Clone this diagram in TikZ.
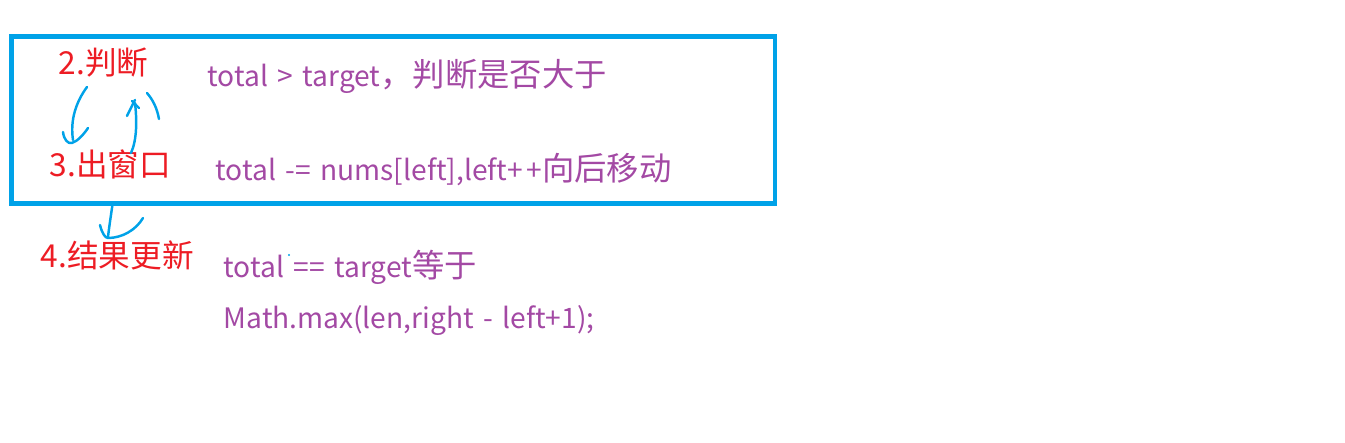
\documentclass[tikz,border=0pt]{standalone}
\usepackage{fontspec}
\setmainfont{Noto Sans CJK SC}
\newfontfamily\lat[Scale=0.87, WordSpace=1.5]{Noto Sans CJK SC}
\usepackage{tikz}
\usetikzlibrary{calc, positioning}
\definecolor{rouge}{RGB}{237,28,36}
\definecolor{bleu}{RGB}{0,162,232}
\definecolor{violet}{RGB}{163,73,164}
\tikzstyle{etape} = [
    text = rouge,
    anchor = base west,
    inner sep = 0pt,
    font = \fontsize{9pt}{11pt}\selectfont,
]
\tikzstyle{code} = [
    text = violet,
    anchor = base west,
    inner sep = 0pt,
    font = \fontsize{9.2pt}{11pt}\selectfont,
]
\tikzstyle{trait} = [
    draw = bleu,
    line width = 0.7pt,
    line cap = round,
    line join = round,
]

\begin{document}
\begin{tikzpicture} [x = 0.01cm, y = -0.01cm]
    \useasboundingbox (0, 0) rectangle (1345, 443);

    \node (Fenetre) [draw = bleu, line width = 1.28pt, minimum width = 7.63cm, minimum height = 1.67cm, anchor = north west] at (9.3, 34.3) {};

    \node (Juger) [etape] at (58, 75) {2.判断};
    \node (Sortir) [etape] at (49, 177) {3.出窗口};
    \node (Maj) [etape] at (40, 268) {4.结果更新};

    \node (Superieur) [code] at (207, 87) {{\lat total > target}，判断是否大于};
    \node (Retirer) [code] at (215, 181) {{\lat total -= nums[left],left+\kern 1pt+}向后移动};
    \node (Egal) [code] at (223, 278) {{\lat total == target}等于};
    \node (Longueur) [code] at (223, 329) {{\lat Math.max(len,right - left+1);}};

    % 2 -> 3
    \draw[trait] (87, 87) .. controls (76, 102) and (70, 120) .. (73, 140);
    \draw[trait] (63, 132) .. controls (64, 140) and (68, 144) .. (72, 143) .. controls (78, 141) and (84, 134) .. (88, 128);
    % 3 -> 2
    \draw[trait] (131, 153) .. controls (137, 140) and (137, 120) .. (135, 103);
    \draw[trait] (127, 116) .. controls (130, 108) .. (135, 100);
    \draw[trait] (132, 101) -- (139, 108);
    \draw[trait] (147, 93) .. controls (153, 100) and (157, 108) .. (159, 119);
    % box -> 4
    \draw[trait] (Fenetre.south west) ++(103, 0) .. controls (111, 215) and (109, 228) .. (108, 237);
    \draw[trait] (100, 225) .. controls (102, 233) and (105, 238) .. (108, 238) .. controls (122, 238) and (136, 230) .. (143, 218);
    \fill[bleu] (289, 255) circle (1.2);
\end{tikzpicture}
\end{document}
